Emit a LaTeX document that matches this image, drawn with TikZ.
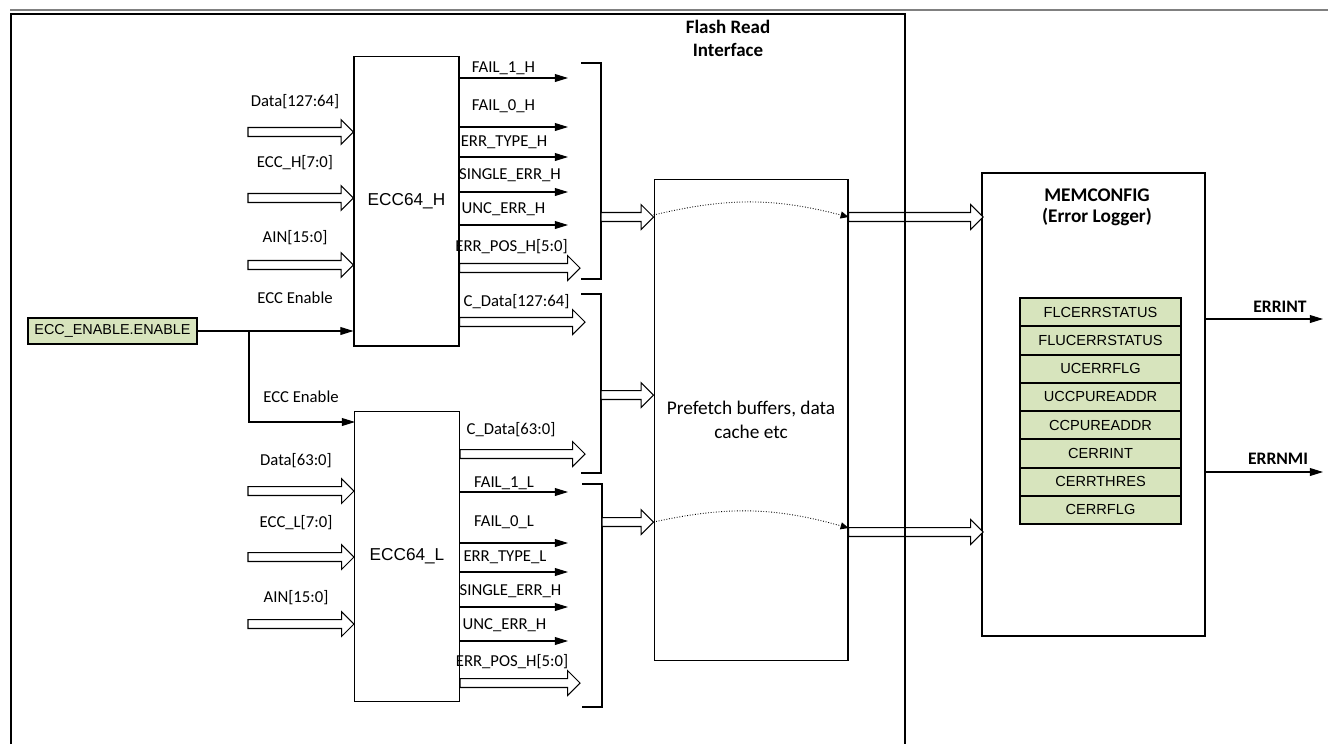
\documentclass[tikz,border=0pt]{standalone}
\usepackage{fontspec}
\setmainfont{Carlito}
\newfontfamily\arialfont{Liberation Sans}
\usetikzlibrary{arrows.meta,calc,positioning}
\definecolor{regfill}{HTML}{D7E4BD}
\tikzset{
  >={Triangle[length=7.5pt,width=4.5pt]},
  blk/.style ={draw, line width=0.6pt, minimum width=2.1cm, minimum height=5.8cm, font=\arialfont\fontsize{9.8}{12}\selectfont},
  pfb/.style ={draw, line width=0.6pt, minimum width=3.88cm, minimum height=9.64cm, align=center, font=\fontsize{11}{13.6}\selectfont},
  memb/.style={draw, line width=1.2pt, minimum width=4.46cm, minimum height=9.26cm},
  reg/.style ={draw, line width=1.1pt, fill=regfill, minimum width=3.22cm, minimum height=0.565cm, inner sep=0pt, font=\arialfont\fontsize{8.3}{10}\selectfont},
  enb/.style ={draw, line width=1.1pt, fill=regfill, minimum width=3.38cm, minimum height=0.52cm, inner sep=0pt, font=\arialfont\fontsize{8.2}{10}\selectfont},
  lbl/.style ={inner sep=0pt, font=\fontsize{9.5}{11}\selectfont},
  blbl/.style={inner sep=0pt, align=center, font=\bfseries\fontsize{10.8}{13}\selectfont},
  sig/.style ={->, line width=0.6pt},
  brk/.style ={draw, line width=0.8pt},
  frm/.style ={draw, line width=1pt},
  arcd/.style={densely dotted, line width=0.5pt, -{Triangle[length=4.5pt,width=4pt]}},
  bus/.style ={draw, fill=white, line width=0.6pt, to path={
    let \p1=(\tikztostart), \p2=(\tikztotarget) in
    (\x1,{\y1+2.55pt}) -- ({\x2-7pt},{\y1+2.55pt}) -- ({\x2-7pt},{\y1+7pt}) -- (\x2,\y1)
    -- ({\x2-7pt},{\y1-7pt}) -- ({\x2-7pt},{\y1-2.55pt}) -- (\x1,{\y1-2.55pt}) -- cycle}},
}
\begin{document}
\begin{tikzpicture}[x=0.02cm, y=-0.02cm]
  \useasboundingbox (0,0) rectangle (1328,744);
  \draw[gray, line width=1pt] (10,10) -- (1328,10);

  \node[blk] (ecch) at (406.5,201) {ECC64\_H};
  \node[blk] (eccl) at (407,556.5) {ECC64\_L};
  \node[pfb] (pf) at (751,420) {Prefetch buffers, data\\cache etc};
  \node[memb] (mem) at (1093.5,404.5) {};
  \node[blbl, font=\bfseries\fontsize{11}{12}\selectfont] (lmem) at (1097,207) {MEMCONFIG\\(Error Logger)};
  \node[blbl] (lfri) at (728,38) {Flash Read\\Interface};
  \node[enb] (en) at (112.5,331) {ECC\_ENABLE.ENABLE};

  \foreach \t [count=\i] in {FLCERRSTATUS,FLUCERRSTATUS,UCERRFLG,UCCPUREADDR,CCPUREADDR,CERRINT,CERRTHRES,CERRFLG}
    \node[reg] (r\i) at (1100.5,{283.9+28.25*\i}) {\t};

  \foreach \y/\ly/\t [count=\i] in {132/102/{Data[127:64]}, 198/163/{ECC\_H[7:0]}, 265/238/{AIN[15:0]}}{
    \coordinate (inH\i) at (248,\y);
    \node[lbl] (linH\i) at (295,\ly) {\t};
    \draw[bus] (inH\i) to (inH\i -| ecch.west);
  }
  \foreach \y/\ly/\t [count=\i] in {491/461/{Data[63:0]}, 557/523/{ECC\_L[7:0]}, 624/598/{AIN[15:0]}}{
    \coordinate (inL\i) at (248,\y);
    \node[lbl] (linL\i) at (296,\ly) {\t};
    \draw[bus] (inL\i) to (inL\i -| eccl.west);
  }

  \coordinate (jn) at (249,331);
  \coordinate (enL) at (355,422);
  \draw[sig] (en.east) -- (en.east -| ecch.west);
  \draw[sig] (jn) |- (enL);
  \node[lbl] (lenH) at (295,298) {ECC Enable};
  \node[lbl] (lenL) at (301,397) {ECC Enable};

  \foreach \y/\ly/\lx/\t [count=\i] in {78/68/503.5/FAIL\_1\_H, 127/106/503.5/FAIL\_0\_H, 157/142/504/ERR\_TYPE\_H, 192/175/510/SINGLE\_ERR\_H, 225/209/503.5/UNC\_ERR\_H}{
    \coordinate (oH\i) at (568,\y);
    \draw[sig] (ecch.east |- oH\i) -- (oH\i);
    \node[lbl] (loH\i) at (\lx,\ly) {\t};
  }
  \foreach \y/\ly/\lx/\t [count=\i] in {492/483/504/FAIL\_1\_L, 543/522/504/FAIL\_0\_L, 572/557/505/ERR\_TYPE\_L, 607/591/510.5/SINGLE\_ERR\_H, 641/625/504.5/UNC\_ERR\_H}{
    \coordinate (oL\i) at (568,\y);
    \draw[sig] (eccl.east |- oL\i) -- (oL\i);
    \node[lbl] (loL\i) at (\lx,\ly) {\t};
  }

  \coordinate (pH) at (580,268);
  \coordinate (cH) at (585,322);
  \coordinate (cL) at (585,454);
  \coordinate (pL) at (580,683);
  \draw[bus] (ecch.east |- pH) to (pH);
  \draw[bus] (ecch.east |- cH) to (cH);
  \draw[bus] (eccl.east |- cL) to (cL);
  \draw[bus] (eccl.east |- pL) to (pL);
  \node[lbl] (lpH) at (511.5,247) {ERR\_POS\_H[5:0]};
  \node[lbl] (lcH) at (516.5,302) {C\_Data[127:64]};
  \node[lbl] (lcL) at (511,430) {C\_Data[63:0]};
  \node[lbl] (lpL) at (512,662) {ERR\_POS\_H[5:0]};

  \coordinate (bH) at (601,217);
  \coordinate (bD) at (601,395);
  \coordinate (bL) at (602,522);
  \draw[brk] (581,63) -| (bH) |- (581,279);
  \draw[brk] (581,294) -| (bD) |- (581,473);
  \draw[brk] (582,484) -| (bL) |- (582,707);
  \draw[bus] (bH) to (bH -| pf.west);
  \draw[bus] (bD) to (bD -| pf.west);
  \draw[bus] (bL) to (bL -| pf.west);

  \coordinate (mU) at (983,217);
  \coordinate (mD) at (983,532);
  \draw[arcd] (pf.west |- 0,215) to[bend left=14] (pf.east |- mU);
  \draw[arcd] (pf.west |- bL) to[bend left=14] (pf.east |- 0,528);
  \draw[bus] (pf.east |- mU) to (mU);
  \draw[bus] (pf.east |- mD) to (mD);

  \coordinate (oi) at (1323,319);
  \coordinate (on) at (1323,472);
  \draw[sig] (mem.east |- oi) -- (oi);
  \draw[sig] (mem.east |- on) -- (on);
  \node[blbl, font=\bfseries\fontsize{10}{12}\selectfont] (loi) at (1280,307) {ERRINT};
  \node[blbl, font=\bfseries\fontsize{10}{12}\selectfont] (lon) at (1278,459) {ERRNMI};

  \draw[frm] (11,744) |- (905,14) -- (905,744);
\end{tikzpicture}
\end{document}
